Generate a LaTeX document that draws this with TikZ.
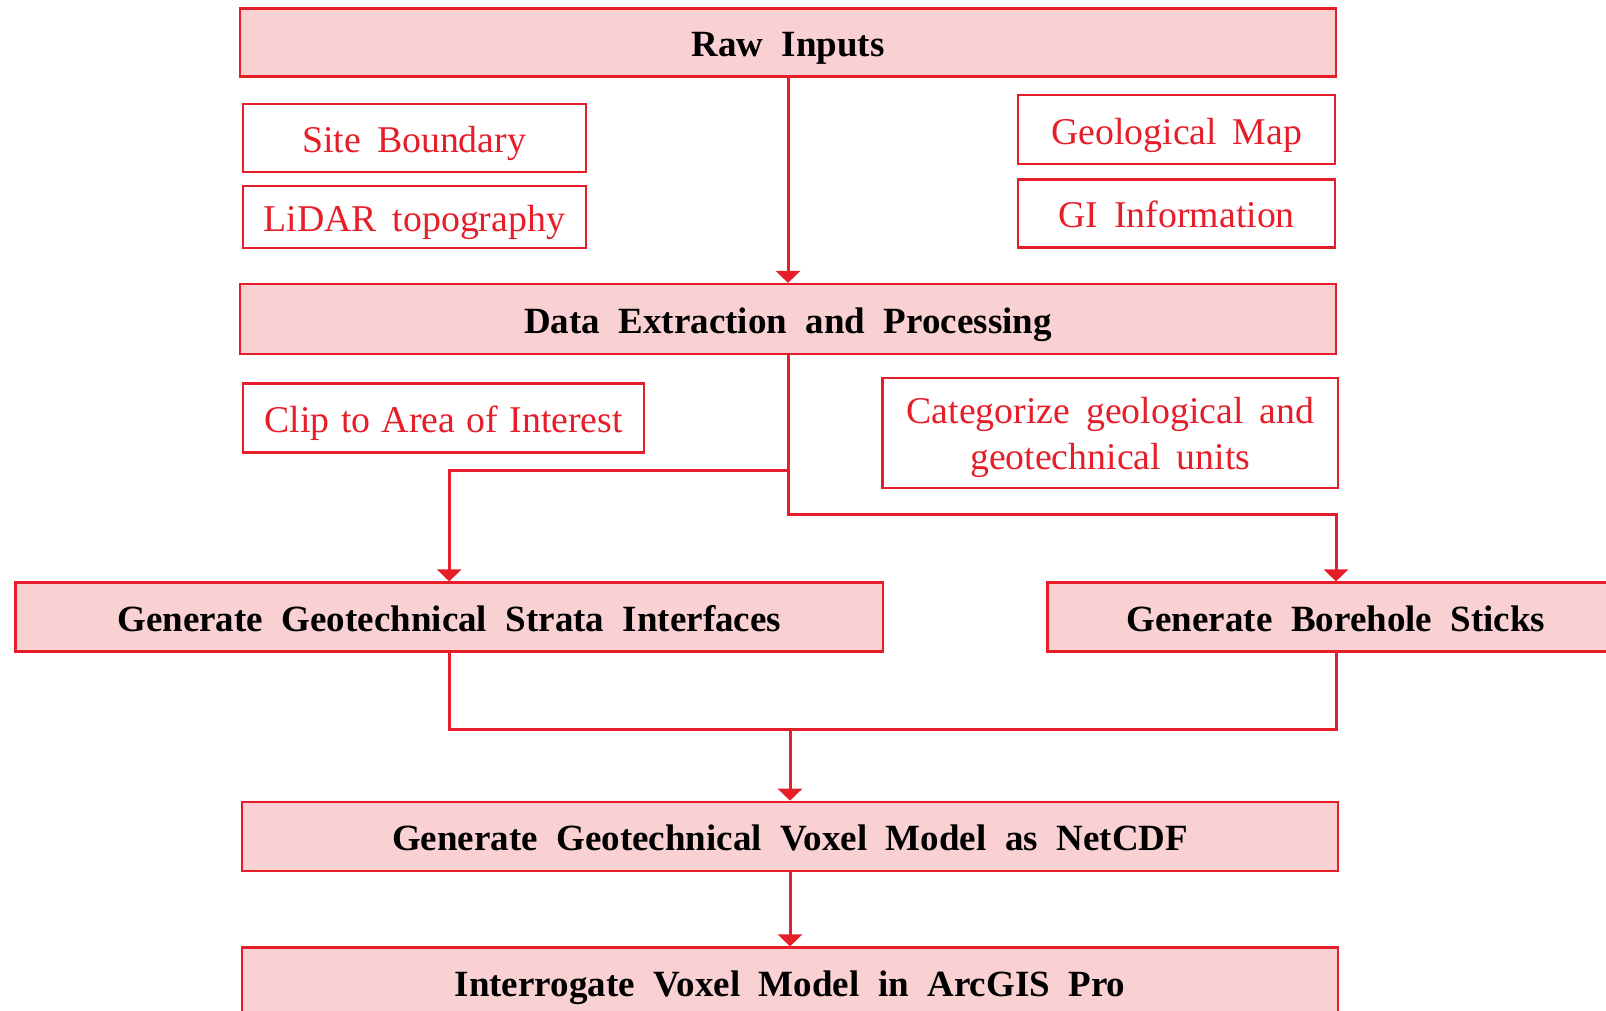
\documentclass[tikz,border=0pt]{standalone}
\usepackage{fontspec}
\setmainfont{Liberation Serif}
\usetikzlibrary{arrows.meta}
\definecolor{bred}{RGB}{230,30,42}
\definecolor{bpink}{RGB}{249,209,211}
\newcommand\mainfnt{\fontsize{37}{44}\selectfont\bfseries\spaceskip=0.5em plus 0.1em\relax}
\newcommand\subfnt{\fontsize{37.8}{46}\selectfont\spaceskip=0.42em plus 0.1em\relax}
\newcommand\tightsp{\spaceskip=0.3em plus 0.1em\relax}
\begin{document}
\begin{tikzpicture}[x=1pt,y=-1pt,
  mainbox/.style={draw=bred,line width=2.2pt,fill=bpink,inner sep=0pt,
    minimum width=#1,font=\mainfnt,text=black,text height=29pt,text depth=0pt},
  subbox/.style={draw=bred,line width=2.2pt,fill=white,inner sep=0pt,
    minimum width=#1,font=\subfnt,text=bred,align=center,text height=29pt,text depth=0pt},
  conn/.style={draw=bred,line width=3pt},
  arr/.style={conn,-{Triangle[width=24pt,length=12pt]}}
]
\useasboundingbox (0,0) rectangle (1606,1011);
\clip (0,0) rectangle (1606,1011);
\fill[white] (0,0) rectangle (1606,1011);

\node[mainbox=1096pt,minimum height=68pt] (raw) at (788,42.5) {Raw Inputs};
\node[subbox=343pt,minimum height=68pt] (site) at (414.3,138.3) {Site Boundary};
\node[subbox=343pt,minimum height=62pt] (lidar) at (414.3,216.7) {LiDAR topography};
\node[subbox=317pt,minimum height=69pt] (geomap) at (1176.7,129.7) {Geological Map};
\node[subbox=317pt,minimum height=68pt] (gi) at (1176.7,213.5) {GI Information};

\node[mainbox=1096pt,minimum height=70pt] (data) at (788,319) {Data Extraction and Processing};
\node[subbox=401pt,minimum height=69pt] (clip) at (443.8,418) {\tightsp Clip to Area of Interest};
\node[subbox=455.5pt,minimum height=110pt,text height=74pt] (cat) at (1110.3,432.8) {Categorize geological and\\geotechnical units};

\node[mainbox=867.6pt,minimum height=69pt] (strata) at (449.2,617) {Generate Geotechnical Strata Interfaces};
\node[mainbox=577pt,minimum height=69pt] (bore) at (1336,617) {Generate Borehole Sticks};

\node[mainbox=1096pt,minimum height=69pt] (voxel) at (790,836.3) {Generate Geotechnical Voxel Model as NetCDF};
\node[mainbox=1096pt,minimum height=69pt] (interr) at (790,982) {Interrogate Voxel Model in ArcGIS Pro};

\coordinate (merge) at (790,728);

\draw[arr] (raw) -- (data);
\draw[arr] (data.south) -- ++(0,115) -| (strata.north);
\draw[arr] (data.south) -- ++(0,159) -| (bore.north);
\draw[conn] (strata.south) -- ++(0,77) -| (bore.south);
\draw[arr] (merge) -- (voxel.north);
\draw[arr] (voxel) -- (interr);
\end{tikzpicture}
\end{document}
